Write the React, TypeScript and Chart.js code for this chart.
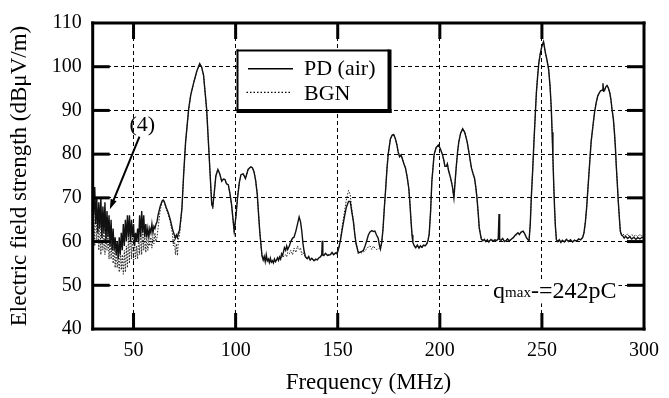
import React, { useEffect, useRef } from "react";
import { Chart, registerables } from "chart.js";

Chart.register(...registerables);

const FONT = "'Liberation Serif', 'Times New Roman', Times, serif";

// ---- axis ticks ----
const xTickValues = [50, 100, 150, 200, 250, 300];
const xInnerTicks = [50, 100, 150, 200, 250];
const yInnerTicks = [50, 60, 70, 80, 90, 100];

// ---- noisy low-frequency part (MHz) ----
const freqLow = [30, 30.5, 31, 31.5, 32, 32.5, 33, 33.5, 34, 34.5, 35, 35.5, 36, 36.5, 37, 37.5, 38, 38.5, 39, 39.5, 40, 40.5, 41, 41.5, 42, 42.5, 43, 43.5, 44, 44.5, 45, 45.5, 46, 46.5, 47, 47.5, 48, 48.5, 49, 49.5, 50, 50.5, 51, 51.5, 52, 52.5, 53, 53.5, 54, 54.5, 55, 55.5, 56, 56.5, 57, 57.5, 58, 58.5, 59, 59.5, 60, 60.5, 61];
const pdLow = [
  71, 66, 72.5, 64, 70, 62, 69, 63, 70, 61,
  68, 62, 69, 60, 67, 61, 66, 59, 65, 58,
  63, 58, 61, 57, 60, 56, 61, 57, 62, 58,
  64, 59, 65, 60, 66, 61, 66, 60, 65, 61,
  64, 59, 62, 60, 63, 60, 66, 61, 67, 62,
  66, 61, 64, 61, 63, 61, 63, 62, 64, 62,
  63.5, 63, 64,
];
const bgnLow = [
  62, 68, 59, 70, 60, 66, 58, 67, 57, 65,
  58, 64, 57, 63, 58, 62, 56, 61, 56, 60,
  55, 59, 54, 58, 54, 57, 53, 58, 53.5, 57,
  52.5, 58, 53, 59, 54, 61, 55, 63, 56, 62,
  55.5, 60, 56, 59, 56, 61, 57, 63, 57, 64,
  58, 62, 57.5, 61, 58, 60, 59, 61, 58.5, 61,
  59.5, 62, 60,
];

// ---- remaining spectrum (MHz) ----
const freqHigh = [
  61.5, 62, 63, 64, 64.5, 65, 66, 67, 68, 69,
  69.5, 70, 70.5, 71, 71.5, 72, 72.5, 73, 73.7, 74.5,
  75.5, 77, 78, 79.5, 81, 82.4, 83.3, 84.3, 85.8, 87.1,
  88.3, 88.8, 89.5, 90.3, 91.3, 92.2, 93.2, 94, 94.8, 95.5,
  96.4, 97.2, 98, 99.3, 100.2, 100.9, 101.8, 102.6, 103.7, 104.8,
  106.1, 107.4, 108.2, 109, 109.8, 110.6, 111.2, 111.8, 112.9, 113.5,
  114, 114.5, 115, 115.5, 116, 116.5, 117, 117.5, 118, 118.5,
  119, 119.5, 120, 120.5, 121, 121.5, 122, 122.5, 123, 123.9,
  124.5, 125, 125.5, 126.3, 127, 127.9, 128.6, 129.5, 130.3, 131.1,
  131.8, 132.4, 133, 133.5, 134.2, 135.1, 135.8, 136.5, 137.3, 138.4,
  139.2, 140, 140.8, 141.5, 142.2, 142.4, 142.7, 143.2, 144, 145,
  146.4, 147.2, 148, 149, 149.7, 150.5, 151.3, 152.2, 153.2, 154.2,
  155.3, 156.1, 157, 157.7, 158.4, 159, 160.1, 161, 162, 162.6,
  163.4, 164.2, 165, 165.8, 166.7, 167.5, 168.2, 169, 169.8, 170.4,
  170.9, 171.6, 172.2, 172.8, 173.5, 174.1, 174.7, 175.8, 176.6, 177.4,
  178.2, 179, 179.6, 180.3, 181, 181.6, 182.4, 183.2, 184, 184.8,
  185.4, 185.9, 186.4, 186.8, 187.5, 188.2, 189, 189.8, 190.5, 191.2,
  192, 192.8, 193.5, 194.2, 194.8, 195.5, 196.1, 197.2, 198.2, 199.3,
  200.2, 201.3, 202, 202.5, 203.2, 203.7, 204.3, 205.3, 206.2, 206.9,
  207.3, 208, 208.7, 209.3, 210.2, 211.2, 212.2, 213.4, 214.4, 215.5,
  216.3, 217, 217.6, 218.2, 218.8, 219.3, 220.3, 221, 221.8, 222.5,
  223.3, 224, 225, 226, 227, 227.8, 228.6, 229, 229.3, 230,
  230.8, 231.6, 232.4, 233.2, 234, 235.1, 236, 237, 238.3, 239,
  239.8, 240.8, 241.6, 242.4, 243.2, 243.7, 244.3, 244.8, 245.5, 246.1,
  246.7, 247.3, 247.9, 248.5, 249.2, 250, 250.8, 251.7, 252.5, 253.3,
  254, 254.6, 255, 255.4, 255.8, 256.2, 256.6, 257.1, 257.8, 258.5,
  259.3, 260, 261, 262, 263, 264, 265, 266, 267, 268,
  269, 270, 270.6, 271.3, 271.9, 273, 274.1, 275, 275.8, 276.6,
  277.4, 278.7, 279.5, 279.9, 280.2, 280.6, 281.2, 281.9, 282.5, 283.2,
  283.8, 284.3, 285, 285.5, 286, 286.4, 286.9, 287.4, 288, 288.4,
  289, 289.6, 290.3, 291, 292, 293, 294, 295, 296, 297,
  298, 299, 300,
];
const pdHigh = [
  64.5, 66, 68, 69.3, 69.5, 69.2, 67.8, 66.6, 65, 63,
  62.2, 61.5, 60.8, 61.5, 60.9, 62, 62.5, 64.5, 67.6, 75,
  82.8, 90.3, 93.5, 96.4, 99, 100.7, 100, 98, 90.3, 79,
  68.5, 68, 71, 75, 76.5, 75.5, 73.8, 74.3, 74.2, 73.2,
  73, 71, 68.5, 62.4, 66, 69.9, 73.5, 75.3, 75.5, 74.4,
  76.5, 77.1, 76.9, 76, 74, 70.8, 66.5, 62.4, 56.8, 55.8,
  56.6, 55.4, 57, 55.6, 56, 55.2, 56.2, 55.3, 55.6, 55.1,
  56, 55.4, 55.8, 56.3, 55.7, 56.5, 56, 57.2, 56.8, 58.6,
  58, 59, 58.2, 59, 60, 60.8, 61, 62.4, 64, 65.6,
  64.5, 62.4, 59.5, 57.9, 56.5, 56.1, 56.6, 55.8, 56.2, 55.6,
  56, 55.8, 56.3, 56.5, 57, 60.2, 56.9, 56.8, 57.3, 56.8,
  57, 57.5, 57, 57.4, 57.2, 58.5, 60.2, 62.8, 65.4, 67.8,
  69.2, 69.2, 66.5, 64.5, 61.5, 59.5, 57.4, 57.6, 57.8, 58,
  59, 60.2, 61.5, 62.2, 62.5, 62.3, 62.4, 61.5, 60.8, 59.2,
  58.3, 60, 63, 67.5, 72.2, 76.5, 79.9, 83.5, 84.3, 84.5,
  83.6, 82.1, 80.5, 79.4, 79.8, 79, 77.8, 76.8, 74.8, 72.2,
  68.5, 64.7, 61.5, 59.8, 59, 58.6, 59.2, 58.5, 59, 58.7,
  59.2, 59, 59.4, 60.2, 61.7, 67, 73.8, 79.9, 81.5, 82.1,
  81.3, 79.9, 78.5, 77.2, 77.2, 77.8, 76.2, 74.5, 72.5, 70,
  72.5, 76.8, 80.5, 82.8, 84.8, 85.8, 85, 82.8, 80, 76.8,
  75.5, 74.5, 72.5, 70, 66.5, 63.2, 60.6, 60.2, 60.5, 60,
  60.4, 59.9, 60.5, 60.1, 60.4, 60.2, 60.6, 66.3, 60.4, 60.3,
  60.7, 60, 60.2, 60.6, 60.1, 60.6, 60.9, 61.5, 62, 61.6,
  62.2, 62.4, 61.8, 60.9, 60.4, 60.2, 64, 70, 76.5, 82.8,
  88.5, 94.1, 97.8, 100.9, 103, 104.7, 105.7, 103.2, 101.5, 99.4,
  95.5, 90.4, 85, 79, 73, 67.7, 63.5, 60.4, 60, 60.4,
  59.8, 60.3, 59.9, 60.5, 60, 60.4, 59.9, 60.3, 60.1, 60.6,
  60.4, 61, 62, 64.5, 67.7, 75.3, 82.8, 86.5, 89.6, 91.8,
  93.4, 94.5, 94.6, 96.2, 94.4, 94.5, 95.3, 95.7, 95.2, 94.1,
  92.5, 90.4, 88, 85.1, 81.5, 77.5, 73.5, 69.2, 65, 62.4,
  61.5, 61.3, 60.8, 61.2, 60.7, 61.1, 60.6, 61, 60.5, 60.9,
  60.6, 61, 60.8,
];
const bgnHigh = [
  61, 63, 67, 69, 69.3, 69, 67.5, 66.2, 64.5, 62,
  59, 61, 57, 59.5, 56.8, 60.5, 61.5, 64, 67.5, 75,
  82.8, 90.3, 93.5, 96.4, 99, 100.5, 100, 98, 90.3, 79,
  68.5, 67.5, 71, 75, 76.5, 75.5, 73.8, 74.3, 74.2, 73.2,
  73, 71, 68.5, 61.8, 66, 69.9, 73.5, 75.3, 75.5, 74.4,
  76.5, 77.1, 76.9, 76, 74, 70.8, 66.5, 62.4, 56.8, 56,
  56.3, 55.6, 56.5, 55.4, 55.9, 55.5, 56, 55.2, 55.8, 55.2,
  55.8, 55.5, 55.6, 56, 55.8, 56.2, 55.9, 56.5, 56.4, 56.8,
  57, 56.5, 57.5, 57.2, 58, 57, 58.5, 57.5, 59, 58.2,
  58.5, 57, 57.5, 57, 56.4, 56, 56.3, 55.8, 56, 55.7,
  55.8, 56, 56.2, 56.5, 57, 58, 57, 56.8, 57.2, 57,
  57, 57.3, 57.2, 57.5, 57.6, 58.5, 60.5, 63.5, 66.5, 69.5,
  71.7, 70.8, 67, 64.7, 61.5, 59.5, 57.6, 57.5, 57.4, 57.6,
  58, 58.3, 58.8, 59, 58.2, 59, 58.5, 58.2, 58.3, 58.5,
  58.2, 60, 63, 67.5, 72.2, 76.5, 79.9, 83.5, 84.3, 84.5,
  83.6, 82.1, 80.5, 79.4, 79.8, 79, 77.8, 76.8, 74.8, 72.2,
  68.5, 64.7, 61.5, 59.8, 59.2, 58.8, 59, 58.6, 59.1, 58.5,
  59, 59.2, 59.3, 60.3, 61.7, 67, 73.8, 79.9, 81.5, 82.1,
  81.3, 79.9, 78.5, 77.2, 77.2, 77.8, 76.2, 74.5, 72.5, 70,
  72.5, 76.8, 80.5, 82.8, 84.8, 85.8, 85, 82.8, 80, 76.8,
  75.5, 74.5, 72.5, 70, 66.5, 63.2, 60.6, 60.4, 60.3, 60.2,
  60.5, 60.1, 60.3, 60.3, 60.2, 60.4, 60.5, 62, 60.5, 60.4,
  60.5, 60.2, 60.3, 60.4, 60.3, 60.5, 61, 61.3, 61.8, 61.7,
  62, 62.3, 61.6, 61, 60.5, 60.4, 64, 70, 76.5, 82.8,
  88.5, 94.1, 97.8, 100.9, 103, 104.7, 105.7, 103.2, 101.5, 99.4,
  95.5, 90.4, 85, 79, 73, 67.7, 63.5, 60.4, 60.2, 60.3,
  60, 60.2, 60.1, 60.3, 60.2, 60.2, 60.1, 60.4, 60.2, 60.4,
  60.6, 60.8, 62, 64.5, 67.7, 75.3, 82.8, 86.5, 89.6, 91.8,
  93.4, 94.5, 94.6, 95, 94.4, 94.5, 95.3, 95.7, 95.2, 94.1,
  92.5, 90.4, 88, 85.1, 81.5, 77.5, 73.5, 69.2, 65, 62.4,
  61.6, 61.5, 61.7, 61.2, 61.8, 61, 61.6, 61.2, 61.5, 61.1,
  61.7, 61.2, 61.3,
];

const freq = [...freqLow, ...freqHigh];
const pdValues = [...pdLow, ...pdHigh];
const bgnValues = [...bgnLow, ...bgnHigh];

const seriesLabels = ["PD (air)", "BGN"];
const xTitle = "Frequency (MHz)";
const yTitle = "Electric field strength (dBμV/m)";
const noteLabel = "(4)";
const qParts = ["q", "max", "-=242pC"];

// annotation anchors in data units (MHz, dBμV/m)
const noteAt = { x: 54.3, y: 86.7 };
const arrowFrom = { x: 52.9, y: 84.0 };
const arrowTo = { x: 38.4, y: 67.4 };
const qAt = { x: 226.1, y: 47.0 };

const INK = "#000";

const decorPlugin = {
  id: "decor",
  afterDraw(chart: any) {
    const { ctx, chartArea: a, scales } = chart;
    const xs = scales.x;
    const ys = scales.y;
    ctx.save();
    ctx.setLineDash([]);
    ctx.globalAlpha = 1;
    ctx.fillStyle = INK;

    // inward major ticks (filled bars)
    for (const v of yInnerTicks) {
      const p = ys.getPixelForValue(v);
      ctx.fillRect(a.left, p - 1.5, 17, 3);
      ctx.fillRect(a.right - 17, p - 1.5, 17, 3);
    }
    for (const v of xInnerTicks) {
      const p = xs.getPixelForValue(v);
      ctx.fillRect(p - 1.5, a.top, 3, 16);
      ctx.fillRect(p - 1.5, a.bottom - 16, 3, 16);
    }

    // frame (3px)
    const fw = 3;
    ctx.fillRect(a.left - fw / 2, a.top - fw / 2, a.right - a.left + fw, fw);
    ctx.fillRect(a.left - fw / 2, a.bottom - fw / 2, a.right - a.left + fw, fw);
    ctx.fillRect(a.left - fw / 2, a.top - fw / 2, fw, a.bottom - a.top + fw);
    ctx.fillRect(a.right - fw / 2, a.top - fw / 2, fw, a.bottom - a.top + fw);

    // legend box with drop shadow
    const lx = a.left + 144.8;
    const ly = a.top + 27.5;
    const lw = 151;
    const lh = 59.5;
    ctx.fillStyle = "#fff";
    ctx.fillRect(lx, ly, lw, lh);
    ctx.fillStyle = INK;
    ctx.fillRect(lx - 1, ly - 1, lw + 2, 2);
    ctx.fillRect(lx - 1, ly - 1, 2, lh + 2);
    ctx.fillRect(lx + lw - 1, ly - 1, 4, lh + 4);
    ctx.fillRect(lx - 1, ly + lh - 1, lw + 4, 4);

    ctx.strokeStyle = INK;
    ctx.lineWidth = 1.5;
    ctx.beginPath();
    ctx.moveTo(lx + 10.5, ly + 18.2);
    ctx.lineTo(lx + 55.5, ly + 18.2);
    ctx.stroke();
    ctx.lineWidth = 1.2;
    ctx.setLineDash([1.5, 2]);
    ctx.beginPath();
    ctx.moveTo(lx + 9, ly + 41.8);
    ctx.lineTo(lx + 53.5, ly + 41.8);
    ctx.stroke();
    ctx.setLineDash([]);

    ctx.font = `22px ${FONT}`;
    ctx.textAlign = "left";
    ctx.textBaseline = "alphabetic";
    ctx.fillText(seriesLabels[0], lx + 66.5, ly + 24.5);
    ctx.fillText(seriesLabels[1], lx + 66.5, ly + 49);

    // "(4)" label with arrow
    ctx.font = `22px ${FONT}`;
    ctx.textAlign = "center";
    ctx.textBaseline = "middle";
    ctx.fillText(noteLabel, xs.getPixelForValue(noteAt.x), ys.getPixelForValue(noteAt.y));
    const x1 = xs.getPixelForValue(arrowFrom.x);
    const y1 = ys.getPixelForValue(arrowFrom.y);
    const x2 = xs.getPixelForValue(arrowTo.x);
    const y2 = ys.getPixelForValue(arrowTo.y);
    const ang = Math.atan2(y2 - y1, x2 - x1);
    const hl = 10;
    const hw = 3.2;
    ctx.lineWidth = 2;
    ctx.beginPath();
    ctx.moveTo(x1, y1);
    ctx.lineTo(x2 - Math.cos(ang) * hl * 0.8, y2 - Math.sin(ang) * hl * 0.8);
    ctx.stroke();
    ctx.beginPath();
    ctx.moveTo(x2, y2);
    ctx.lineTo(x2 - Math.cos(ang) * hl - Math.sin(ang) * hw, y2 - Math.sin(ang) * hl + Math.cos(ang) * hw);
    ctx.lineTo(x2 - Math.cos(ang) * hl + Math.sin(ang) * hw, y2 - Math.sin(ang) * hl - Math.cos(ang) * hw);
    ctx.closePath();
    ctx.fill();

    // q_max annotation
    const qx = xs.getPixelForValue(qAt.x);
    const qy = ys.getPixelForValue(qAt.y);
    ctx.textAlign = "left";
    ctx.textBaseline = "alphabetic";
    ctx.font = `24px ${FONT}`;
    const w0 = ctx.measureText(qParts[0]).width;
    const w2 = ctx.measureText(qParts[2]).width;
    ctx.font = `15px ${FONT}`;
    const w1 = ctx.measureText(qParts[1]).width;
    ctx.fillStyle = "#fff";
    ctx.fillRect(qx - 2, qy - 19, w0 + w1 + w2 + 4, 24);
    ctx.fillStyle = INK;
    ctx.font = `24px ${FONT}`;
    ctx.fillText(qParts[0], qx, qy);
    ctx.font = `15px ${FONT}`;
    ctx.fillText(qParts[1], qx + w0, qy - 1);
    ctx.font = `24px ${FONT}`;
    ctx.fillText(qParts[2], qx + w0 + w1, qy);

    ctx.restore();
  },
};

export default function App() {
  const ref = useRef<HTMLCanvasElement>(null);

  useEffect(() => {
    const canvas = ref.current;
    if (!canvas) return;
    const pdPoints = freq.map((f, i) => ({ x: f, y: pdValues[i] }));
    const bgnPoints = freq.map((f, i) => ({ x: f, y: bgnValues[i] }));

    const chart = new Chart(canvas, {
      type: "line",
      data: {
        datasets: [
          {
            label: seriesLabels[0],
            data: pdPoints,
            borderColor: "#111",
            borderWidth: 1.4,
            pointRadius: 0,
            tension: 0,
            fill: false,
            order: 0,
          },
          {
            label: seriesLabels[1],
            data: bgnPoints,
            borderColor: "#222",
            borderWidth: 1,
            borderDash: [1.5, 1.5],
            pointRadius: 0,
            tension: 0,
            fill: false,
            order: 1,
          },
        ],
      },
      options: {
        animation: false,
        responsive: false,
        devicePixelRatio: 1,
        layout: { padding: { left: 0, top: 20, right: 18.3, bottom: 0 } },
        plugins: { legend: { display: false }, tooltip: { enabled: false } },
        scales: {
          x: {
            type: "linear",
            min: 30,
            max: 300,
            afterBuildTicks: (s: any) => {
              s.ticks = xTickValues.map((v) => ({ value: v }));
            },
            afterFit: (s: any) => {
              s.height = 69;
            },
            ticks: {
              color: "#000",
              font: { family: FONT, size: 20 },
              padding: 10,
              maxRotation: 0,
              autoSkip: false,
            },
            grid: {
              color: (c: any) => (c.tick && c.tick.value >= 300 ? "rgba(0,0,0,0)" : "#000"),
              lineWidth: 1,
              drawTicks: false,
            },
            border: { display: false, dash: [4, 3] },
            title: {
              display: true,
              text: xTitle,
              color: "#000",
              font: { family: FONT, size: 23 },
              padding: { top: 0, bottom: 1 },
            },
          },
          y: {
            type: "linear",
            min: 40,
            max: 110,
            afterFit: (s: any) => {
              s.width = 92.7;
            },
            ticks: {
              stepSize: 10,
              color: "#000",
              font: { family: FONT, size: 20 },
              padding: 11,
            },
            grid: {
              color: (c: any) =>
                c.tick && (c.tick.value <= 40 || c.tick.value >= 110) ? "rgba(0,0,0,0)" : "#000",
              lineWidth: 1,
              drawTicks: false,
            },
            border: { display: false, dash: [4, 3] },
            title: {
              display: true,
              text: yTitle,
              color: "#000",
              font: { family: FONT, size: 23 },
              padding: { top: 6, bottom: 0 },
            },
          },
        },
      },
      plugins: [decorPlugin],
    } as any);

    return () => chart.destroy();
  }, []);

  return (
    <div
      style={{
        position: "absolute",
        left: 0,
        top: 0,
        width: 669,
        height: 398,
        background: "#fff",
      }}
    >
      <canvas ref={ref} width={669} height={398} style={{ display: "block", width: 669, height: 398 }} />
    </div>
  );
}
